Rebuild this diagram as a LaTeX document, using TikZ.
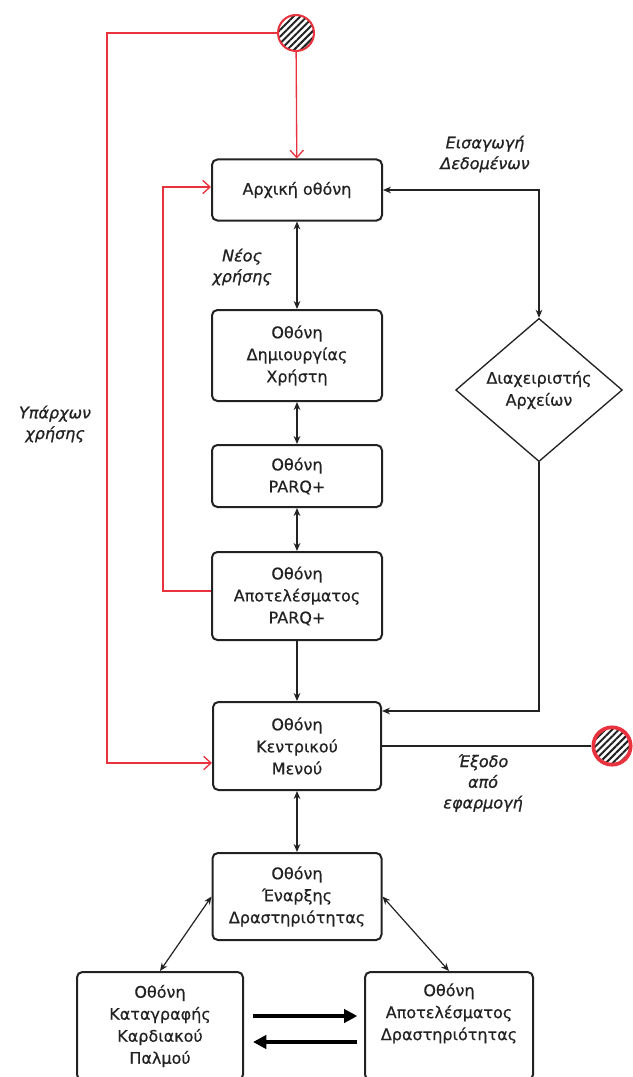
\documentclass[tikz,border=0pt]{standalone}
\usepackage{fontspec}
\setmainfont{DejaVu Sans}[ItalicFont={DejaVu Sans Oblique}, FakeBold=0.5,
  UprightFeatures={FakeBold=0.5}, ItalicFeatures={FakeBold=0.9}]
\usetikzlibrary{arrows.meta,shapes.geometric,patterns.meta,calc}

\definecolor{ink}{HTML}{222222}
\definecolor{flowred}{HTML}{E8323E}

\begin{document}
\begin{tikzpicture}[x=0.75pt,y=-0.75pt,
  >={Stealth[length=6pt,width=5pt]},
  screen/.style={draw=ink, line width=1.5pt, rounded corners=4pt, fill=white,
    align=center, text=ink, inner sep=0pt,
    font=\fontsize{12}{16.5}\selectfont},
  decision/.style={draw=ink, line width=1pt, shape=diamond, align=center,
    text=ink, inner sep=0pt, minimum width=125pt, minimum height=94.5pt,
    font=\fontsize{12}{16.5}\selectfont},
  state/.style={circle, draw=flowred, inner sep=0pt,
    pattern={Lines[angle=45,distance=3.6pt,line width=1.5pt]}, pattern color=ink},
  link/.style={draw=ink, line width=0.9pt},
  redlink/.style={draw=flowred, line width=1pt, -{Straight Barb[length=5.5pt,width=10pt]}},
  bigarrow/.style={draw=black, line width=3pt, -{Triangle[length=10pt,width=10pt]}},
  lbl/.style={align=center, text=ink, font=\itshape\fontsize{12}{15.5}\selectfont}
]
\useasboundingbox (0,0) rectangle (632,1077);

% screens
\node[screen, minimum width=127.5pt, minimum height=45.75pt] (arx)   at (297,190)   {Αρχική οθόνη};
\node[screen, minimum width=127.5pt, minimum height=68.25pt] (dim)   at (297,355.5) {Οθόνη\\Δημιουργίας\\Χρήστη};
\node[screen, minimum width=127.5pt, minimum height=46.5pt]  (parq)  at (297,476)   {Οθόνη\\PARQ+};
\node[screen, minimum width=127.5pt, minimum height=66pt]    (aparq) at (297,596)   {Οθόνη\\Αποτελέσματος\\PARQ+};
\node[screen, minimum width=126pt,   minimum height=66pt]    (kent)  at (297,746)   {Οθόνη\\Κεντρικού\\Μενού};
\node[screen, minimum width=126.75pt,minimum height=65.25pt] (enar)  at (297,896.5) {Οθόνη\\Έναρξης\\Δραστηριότητας};
\node[screen, minimum width=124.5pt, minimum height=81pt]    (kat)   at (160,1026)  {Οθόνη\\Καταγραφής\\Καρδιακού\\Παλμού};
\node[screen, minimum width=126pt,   minimum height=81pt]    (apot)  at (449,1026)  {Οθόνη\\Αποτελέσματος\\Δραστηριότητας\\\strut};

% file manager
\node[decision] (dia) at (539,390) {Διαχειριστής\\Αρχείων};

% start and end states
\node[state, line width=1.5pt, minimum size=27pt]  (start) at (296,33)  {};
\node[state, line width=2.8pt, minimum size=28pt]  (exit)  at (612,746) {};

% labels
\node[lbl] (newuser)  at (242,267) {Νέος\\χρήσης};
\node[lbl] (import)   at (485,154) {Εισαγωγή\\Δεδομένων};
\node[lbl] (exitlbl)  at (483,783) {Έξοδο\\από\\εφαρμογή};
\node[lbl] (existing) at (55,424)  {Υπάρχων\\χρήσης};

% main column
\draw[link,<->] (arx) -- (dim);
\draw[link,<->] (dim) -- (parq);
\draw[link,<->] (parq) -- (aparq);
\draw[link,->]  (aparq) -- (kent);
\draw[link,<->] (kent) -- (enar);

% data import loop
\draw[link,<->] (arx.east) -| (dia.north);
\draw[link,->]  (dia.south) |- ([yshift=26.25pt]kent.east);
\draw[link]     (kent) -- (exit);

% activity screens
\draw[link,<->] (enar.west) -- (kat.north);
\draw[link,<->] (enar.east) -- (apot.north);
\draw[bigarrow, shorten <=6.75pt, shorten >=5pt] ([yshift=7.5pt]kat.east) -- ([yshift=7.5pt]apot.west);
\draw[bigarrow, shorten <=5pt, shorten >=6.75pt] ([yshift=-12pt]apot.west) -- ([yshift=-12pt]kat.east);

% red paths from the start state and back to the first screen
\coordinate (outerturn) at (107,763);
\coordinate (innerturn) at (163,187);
\draw[redlink] (start) -- (arx);
\draw[redlink] (start.west) -| (outerturn) -- ([yshift=-12.75pt]kent.west);
\draw[redlink] ([yshift=3.75pt]aparq.west) -| (innerturn) -- ([yshift=2.25pt]arx.west);
\end{tikzpicture}
\end{document}
